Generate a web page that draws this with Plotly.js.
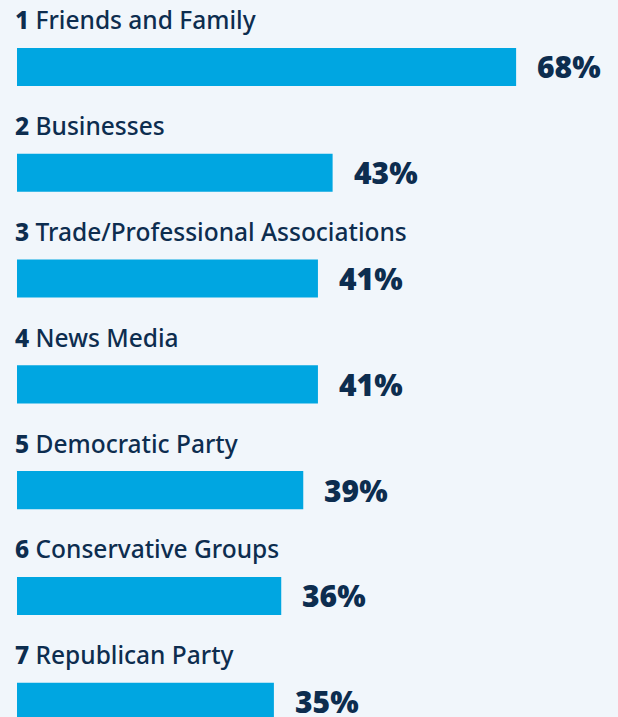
<!DOCTYPE html>
<html><head><meta charset="utf-8">
<script src="https://cdn.plot.ly/plotly-3.0.1.min.js"></script>
<style>html,body{margin:0;padding:0;background:#f1f6fb;}#chart{width:618px;height:717px;}</style>
</head><body><div id="chart"></div>
<script>
const ranks = ["1","2","3","4","5","6","7"];
const categories = ["Friends and Family","Businesses","Trade/Professional Associations","News Media","Democratic Party","Conservative Groups","Republican Party"];
const values = [68,43,41,41,39,36,35];
const valueLabels = ["68%","43%","41%","41%","39%","36%","35%"];

const idx = categories.map((c,i)=>i);
const navy = "#0d2d4f";
const annotations = [];
categories.forEach((c,i)=>{
  annotations.push({x:-0.55, y:i, yshift:47, xref:'x', yref:'y', xanchor:'left', yanchor:'middle',
    text:'<span style="font-weight:800">'+ranks[i]+'</span> '+c, showarrow:false,
    font:{family:'Noto Sans', size:24.5, weight:500, color:navy}});
  annotations.push({x:values[i], y:i, xshift:19, xref:'x', yref:'y', xanchor:'left', yanchor:'middle',
    text:'<span style="font-weight:800">'+valueLabels[i]+'</span>', showarrow:false,
    font:{family:'Open Sans', size:30, color:navy}});
});
Plotly.newPlot('chart',[{
  type:'bar', orientation:'h', x:values, y:idx, width:0.36,
  marker:{color:'#00a6e1'}, hoverinfo:'none'
}],{
  width:618, height:717, margin:{l:0,r:0,t:0,b:0},
  paper_bgcolor:'#f1f6fb', plot_bgcolor:'#f1f6fb',
  xaxis:{range:[-2.316,81.88], visible:false, fixedrange:true},
  yaxis:{range:[6.144,-0.633], visible:false, fixedrange:true},
  showlegend:false, annotations:annotations
},{displayModeBar:false, staticPlot:true});
</script></body></html>
